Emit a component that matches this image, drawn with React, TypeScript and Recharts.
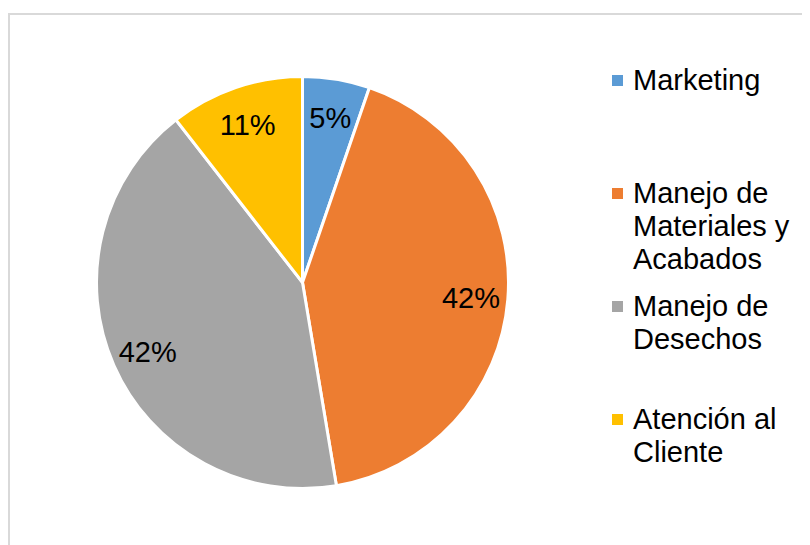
import { PieChart, Pie, Cell, Legend } from "recharts";

const categories = [
  "Marketing",
  "Manejo de Materiales y Acabados",
  "Manejo de Desechos",
  "Atención al Cliente",
];
const values = [1, 8, 8, 2];
const colors = ["#5B9BD5", "#ED7D31", "#A5A5A5", "#FFC000"];

const data = categories.map((name, i) => ({ name, value: values[i] }));

const FONT = "'Liberation Sans', Arial, sans-serif";
const RAD = Math.PI / 180;

const renderLabel = (props: any) => {
  const { cx, cy, midAngle, percent } = props;
  const r = 169;
  const x = cx + r * Math.cos(-midAngle * RAD);
  const y = cy + r * Math.sin(-midAngle * RAD) + 2;
  return (
    <text
      x={x}
      y={y}
      textAnchor="middle"
      dominantBaseline="central"
      fill="#000"
      fontSize={29}
      fontFamily={FONT}
    >
      {`${Math.round(percent * 100)}%`}
    </text>
  );
};

const renderLegend = () => (
  <div style={{ fontFamily: FONT, fontSize: 29, lineHeight: "33px", color: "#000" }}>
    {categories.map((name, i) => (
      <div key={name} style={{ display: "flex", height: 113 }}>
        <div
          style={{
            width: 11,
            height: 11,
            marginTop: 11,
            marginRight: 10,
            background: colors[i],
            flexShrink: 0,
          }}
        />
        <div style={{ width: 172 }}>{name}</div>
      </div>
    ))}
  </div>
);

export default function App() {
  return (
    <div style={{ paddingTop: 5 }}>
      <div
        style={{
          width: 800,
          height: 530,
          borderTop: "2px solid #d9d9d9",
          borderLeft: "2px solid #d9d9d9",
          background: "#fff",
        }}
      >
        <PieChart width={800} height={530} margin={{ top: 0, right: 0, bottom: 0, left: 0 }}>
          <Pie
            data={data}
            dataKey="value"
            nameKey="name"
            cx={292.5}
            cy={267.5}
            outerRadius={206}
            startAngle={90}
            endAngle={-270}
            stroke="#fff"
            strokeWidth={3}
            label={renderLabel}
            labelLine={false}
            isAnimationActive={false}
          >
            {data.map((d, i) => (
              <Cell key={d.name} fill={colors[i]} />
            ))}
          </Pie>
          <Legend
            layout="vertical"
            align="right"
            verticalAlign="top"
            content={renderLegend}
            wrapperStyle={{ left: 602, top: 49, width: 198, right: "auto" }}
          />
        </PieChart>
      </div>
    </div>
  );
}
